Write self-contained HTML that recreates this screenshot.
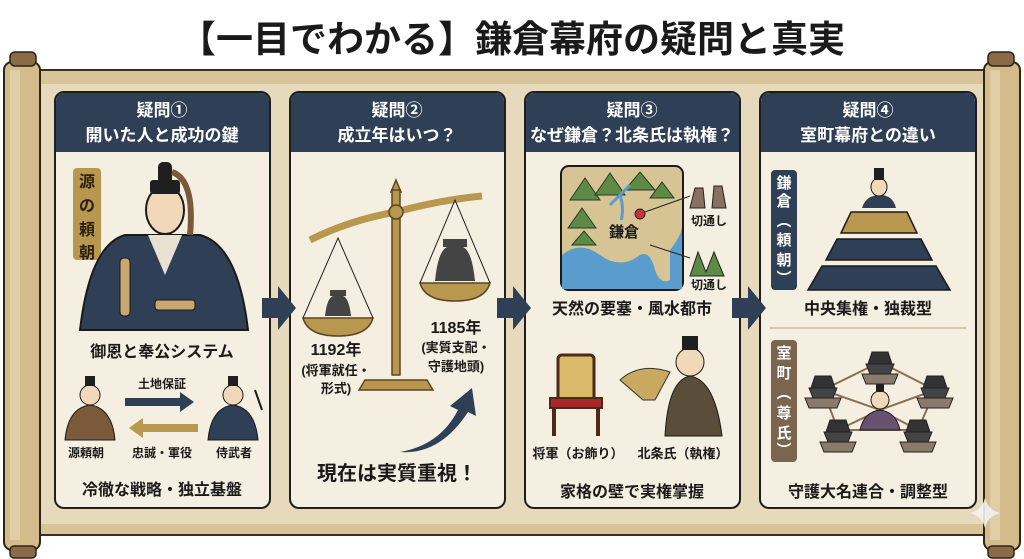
<!DOCTYPE html>
<html><head><meta charset="utf-8"><style>
html,body{margin:0;padding:0;background:#fff;}
svg{display:block;}
text{font-family:"Liberation Sans","Noto Sans CJK JP",sans-serif;font-weight:bold;}
</style></head><body>
<svg width="1024" height="559" viewBox="0 0 1024 559" xmlns="http://www.w3.org/2000/svg">
<rect width="1024" height="559" fill="#fff"/>
<text x="512" y="52" font-size="37" text-anchor="middle" fill="#1a1a1a">【一目でわかる】鎌倉幕府の疑問と真実</text>
<rect x="30" y="70" width="964" height="465" fill="#d9c49a" stroke="#3a2e22" stroke-width="2"/>
<rect x="38" y="84" width="948" height="440" fill="#e7d9bb"/>
<rect x="4" y="62" width="36" height="488" rx="8" fill="#d3bb8c" stroke="#2e2418" stroke-width="2"/>
<rect x="10" y="52" width="26" height="14" rx="5" fill="#8a6a48" stroke="#2e2418" stroke-width="1.5"/>
<rect x="10" y="546" width="26" height="12" rx="4" fill="#8a6a48" stroke="#2e2418" stroke-width="1.5"/>
<rect x="984" y="62" width="36" height="488" rx="8" fill="#d3bb8c" stroke="#2e2418" stroke-width="2"/>
<rect x="988" y="52" width="26" height="14" rx="5" fill="#8a6a48" stroke="#2e2418" stroke-width="1.5"/>
<rect x="988" y="546" width="26" height="12" rx="4" fill="#8a6a48" stroke="#2e2418" stroke-width="1.5"/>
<rect x="10" y="70" width="10" height="470" fill="#e6d5b0" opacity=".7"/>
<rect x="990" y="70" width="10" height="470" fill="#e6d5b0" opacity=".7"/>

<g stroke="#1e1e1e" stroke-width="2">
<rect x="55" y="92" width="215" height="416" rx="9" fill="#f5efe1"/>
<rect x="290" y="92" width="215" height="416" rx="9" fill="#f5efe1"/>
<rect x="525" y="92" width="215" height="416" rx="9" fill="#f5efe1"/>
<rect x="760" y="92" width="216" height="416" rx="9" fill="#f5efe1"/>
</g>
<g fill="#2f3f55">
<path d="M56,152 V102 Q56,93 65,93 H260 Q269,93 269,102 V152Z"/>
<path d="M291,152 V102 Q291,93 300,93 H495 Q504,93 504,102 V152Z"/>
<path d="M526,152 V102 Q526,93 535,93 H730 Q739,93 739,102 V152Z"/>
<path d="M761,152 V102 Q761,93 770,93 H966 Q975,93 975,102 V152Z"/>
</g>
<g fill="#fff" font-size="17" text-anchor="middle">
<text x="162" y="116">疑問①</text><text x="162" y="141">開いた人と成功の鍵</text>
<text x="397" y="116">疑問②</text><text x="397" y="141">成立年はいつ？</text>
<text x="632" y="116">疑問③</text><text x="632" y="141">なぜ鎌倉？北条氏は執権？</text>
<text x="868" y="116">疑問④</text><text x="868" y="141">室町幕府との違い</text>
</g>
<g fill="#2f3f55">
<path d="M262,298 h16 v-12 l18,22 l-18,22 v-12 h-16z"/>
<path d="M497,298 h16 v-12 l18,22 l-18,22 v-12 h-16z"/>
<path d="M732,298 h16 v-12 l18,22 l-18,22 v-12 h-16z"/>
</g>

<!-- Panel 1 -->
<rect x="73" y="168" width="28" height="92" rx="4" fill="#b8974e"/>
<g font-size="16" fill="#2a1f10" text-anchor="middle"><text x="87" y="187">源</text><text x="87" y="211">の</text><text x="87" y="235">頼</text><text x="87" y="258">朝</text></g>
<path d="M80,330 Q90,245 125,235 L200,235 Q238,245 248,330Z" fill="#2f3f55" stroke="#1a1a1a" stroke-width="2"/>
<path d="M148,235 L165,275 L182,235Z" fill="#e8e0d0"/>
<ellipse cx="165" cy="210" rx="19" ry="24" fill="#f0d8b8" stroke="#1a1a1a" stroke-width="2"/>
<rect x="150" y="180" width="30" height="14" rx="3" fill="#1f1f1f"/>
<rect x="158" y="162" width="14" height="22" rx="5" fill="#1f1f1f"/>
<path d="M172,172 Q195,180 190,235" stroke="#7a5a3a" stroke-width="6" fill="none"/>
<rect x="120" y="258" width="10" height="58" rx="4" fill="#c9a870" stroke="#1a1a1a"/>
<rect x="155" y="300" width="40" height="10" rx="3" fill="#c9a870" stroke="#1a1a1a"/>
<text x="162" y="357" font-size="16" fill="#1a1a1a" text-anchor="middle">御恩と奉公システム</text>
<path d="M65,440 Q68,408 90,405 Q112,408 115,440Z" fill="#7a5a3a" stroke="#1a1a1a"/>
<circle cx="90" cy="395" r="10" fill="#f0d8b8" stroke="#1a1a1a"/>
<rect x="85" y="376" width="10" height="10" fill="#1f1f1f"/>
<path d="M208,440 Q211,408 233,405 Q255,408 258,440Z" fill="#2f3f55" stroke="#1a1a1a"/>
<circle cx="233" cy="395" r="10" fill="#f0d8b8" stroke="#1a1a1a"/>
<rect x="228" y="376" width="10" height="10" fill="#1f1f1f"/>
<line x1="255" y1="390" x2="262" y2="410" stroke="#1a1a1a" stroke-width="2"/>
<text x="162" y="388" font-size="12" fill="#1a1a1a" text-anchor="middle">土地保証</text>
<path d="M125,398 h55 v-6 l14,10 l-14,10 v-6 h-55z" fill="#2f3f55"/>
<path d="M198,424 h-55 v-6 l-14,10 l14,10 v-6 h55z" fill="#b8974e"/>
<g font-size="12" fill="#1a1a1a" text-anchor="middle"><text x="86" y="457">源頼朝</text><text x="162" y="457">忠誠・軍役</text><text x="234" y="457">侍武者</text></g>
<text x="162" y="495" font-size="16" fill="#1a1a1a" text-anchor="middle">冷徹な戦略・独立基盤</text>

<!-- Panel 2 -->
<g stroke="#5a4520" stroke-width="1.5" fill="#b8974e">
<path d="M396,180 l5,12 h-10z"/>
<rect x="392" y="190" width="8" height="185"/>
<path d="M310,240 Q350,220 396,212 Q440,200 482,196" fill="none" stroke="#b8974e" stroke-width="7"/>
<circle cx="396" cy="212" r="7"/>
<path d="M365,380 h62 l6,10 h-74z"/>
<path d="M303,318 h70 q-5,18 -35,18 q-30,0 -35,-18z"/>
<path d="M420,283 h70 q-5,18 -35,18 q-30,0 -35,-18z"/>
</g>
<g stroke="#222" stroke-width="1" fill="none">
<path d="M303,318 L338,238 L373,318"/><path d="M420,283 L455,200 L490,283"/>
</g>
<path d="M325,316 q2,-18 8,-20 h-3 v-6 h16 v6 h-3 q6,2 8,20z" fill="#444"/>
<path d="M435,281 q3,-30 12,-34 h-4 v-8 h24 v8 h-4 q9,4 12,34z" fill="#444"/>
<g fill="#1a1a1a" text-anchor="middle">
<text x="336" y="355" font-size="16">1192年</text>
<text x="336" y="375" font-size="13">(将軍就任・</text>
<text x="336" y="393" font-size="13">形式)</text>
<text x="456" y="333" font-size="16">1185年</text>
<text x="456" y="352" font-size="13">(実質支配・</text>
<text x="456" y="371" font-size="13">守護地頭)</text>
</g>
<path d="M400,452 Q440,445 458,410 l-8,-4 l22,-18 l4,28 l-8,-4 Q440,455 400,452z" fill="#2f3f55"/>
<text x="397" y="480" font-size="20" fill="#1a1a1a" text-anchor="middle">現在は実質重視！</text>

<!-- Panel 3 -->
<rect x="561" y="166" width="122" height="124" rx="8" fill="#d6c494" stroke="#1a1a1a" stroke-width="2"/>
<path d="M562,255 Q580,240 600,255 Q620,270 640,255 Q650,250 655,270 Q660,285 670,280 V250 Q682,235 682,225 V289 H562z" fill="#5a9ccc"/>
<g fill="#5e8a48" stroke="#2a3a20">
<path d="M570,200 l15,-22 l15,22z"/><path d="M595,195 l15,-22 l15,22z"/><path d="M625,190 l15,-18 l15,18z"/><path d="M650,198 l12,-16 l12,16z"/>
<path d="M568,228 l14,-20 l14,20z"/><path d="M572,245 l12,-14 l12,14z"/>
</g>
<path d="M610,205 Q620,195 630,185 M620,195 Q625,210 620,225" stroke="#5a9ccc" stroke-width="3" fill="none"/>
<circle cx="640" cy="214" r="5" fill="#c33" stroke="#222"/>
<line x1="645" y1="212" x2="690" y2="196" stroke="#222"/>
<line x1="650" y1="245" x2="690" y2="258" stroke="#222"/>
<rect x="601" y="220" width="46" height="22" fill="#d6c494"/>
<text x="624" y="237" font-size="15" fill="#1a1a1a" text-anchor="middle">鎌倉</text>
<path d="M690,208 l5,-20 h8 l2,20z M712,208 l2,-22 l8,0 l4,22z" fill="#8a7060" stroke="#222"/>
<path d="M690,276 l8,-24 l8,20 l8,-20 l10,24z" fill="#5e8a48" stroke="#222"/>
<g font-size="12" fill="#1a1a1a" text-anchor="middle"><text x="709" y="225">切通し</text><text x="709" y="289">切通し</text></g>
<text x="632" y="314" font-size="16" fill="#1a1a1a" text-anchor="middle">天然の要塞・風水都市</text>
<rect x="558" y="355" width="36" height="50" rx="4" fill="#d9b96a" stroke="#4a2a18" stroke-width="3"/>
<rect x="550" y="398" width="52" height="10" fill="#a8282a" stroke="#4a2a18" stroke-width="2"/>
<path d="M554,408 v28 M598,408 v28" stroke="#4a2a18" stroke-width="4"/>
<path d="M665,436 Q668,380 690,376 Q715,380 722,436z" fill="#5a4e3a" stroke="#1a1a1a"/>
<circle cx="690" cy="362" r="14" fill="#f0d8b8" stroke="#1a1a1a"/>
<rect x="682" y="336" width="16" height="14" fill="#1f1f1f"/>
<path d="M643,400 L620,380 Q640,362 670,372 L655,400z" fill="#c9a860" stroke="#333"/>
<g font-size="13" fill="#1a1a1a" text-anchor="middle"><text x="578" y="458">将軍（お飾り）</text><text x="683" y="458">北条氏（執権）</text></g>
<text x="632" y="497" font-size="16" fill="#1a1a1a" text-anchor="middle">家格の壁で実権掌握</text>

<!-- Panel 4 -->
<rect x="771" y="170" width="26" height="120" rx="4" fill="#2f3f55"/>
<g font-size="15" fill="#fff" text-anchor="middle"><text x="784" y="188">鎌</text><text x="784" y="206">倉</text><text x="784" y="226">︵</text><text x="784" y="245">頼</text><text x="784" y="265">朝</text><text x="784" y="283">︶</text></g>
<path d="M862,208 Q866,195 880,195 Q893,195 896,208z" fill="#2f3f55"/>
<ellipse cx="879" cy="187" rx="8" ry="9" fill="#f0d8b8" stroke="#1a1a1a"/>
<rect x="874" y="168" width="10" height="12" fill="#1f1f1f"/>
<g stroke="#1a1a1a" stroke-width="1.5">
<path d="M851,212 h56 l10,21 h-76z" fill="#b8974e"/>
<path d="M837,239 h84 l11,21 h-106z" fill="#2f3f55"/>
<path d="M822,266 h114 l14,24 h-142z" fill="#2f3f55"/>
</g>
<text x="868" y="314" font-size="16" fill="#1a1a1a" text-anchor="middle">中央集権・独裁型</text>
<line x1="770" y1="328" x2="966" y2="328" stroke="#c8b898" stroke-width="1.5"/>
<rect x="771" y="340" width="26" height="122" rx="4" fill="#7a6650"/>
<g font-size="15" fill="#fff" text-anchor="middle"><text x="784" y="358">室</text><text x="784" y="378">町</text><text x="784" y="398">︵</text><text x="784" y="418">尊</text><text x="784" y="438">氏</text><text x="784" y="455">︶</text></g>
<g stroke="#8a7050" stroke-width="2" fill="none">
<path d="M880,362 L823,390 L838,430 L918,430 L935,390Z"/>
<path d="M880,362 L880,410 M823,390 L880,410 L935,390 M838,430 L880,410 L918,430"/>
</g>
<g stroke="#222" stroke-width="1">
<g transform="translate(880,362)"><path d="M-18,12 h36 l-4,10 h-28z" fill="#8a7a6a"/><path d="M-14,2 h28 l-4,10 h-20z" fill="#444"/><path d="M-8,-10 h16 l4,12 h-24z" fill="#333"/></g>
<g transform="translate(823,386)"><path d="M-18,12 h36 l-4,10 h-28z" fill="#8a7a6a"/><path d="M-14,2 h28 l-4,10 h-20z" fill="#444"/><path d="M-8,-10 h16 l4,12 h-24z" fill="#333"/></g>
<g transform="translate(935,386)"><path d="M-18,12 h36 l-4,10 h-28z" fill="#8a7a6a"/><path d="M-14,2 h28 l-4,10 h-20z" fill="#444"/><path d="M-8,-10 h16 l4,12 h-24z" fill="#333"/></g>
<g transform="translate(838,430)"><path d="M-18,12 h36 l-4,10 h-28z" fill="#8a7a6a"/><path d="M-14,2 h28 l-4,10 h-20z" fill="#444"/><path d="M-8,-10 h16 l4,12 h-24z" fill="#333"/></g>
<g transform="translate(918,430)"><path d="M-18,12 h36 l-4,10 h-28z" fill="#8a7a6a"/><path d="M-14,2 h28 l-4,10 h-20z" fill="#444"/><path d="M-8,-10 h16 l4,12 h-24z" fill="#333"/></g>
</g>
<path d="M860,430 Q864,412 880,410 Q896,412 900,430z" fill="#6a5070" stroke="#1a1a1a"/>
<circle cx="880" cy="400" r="9" fill="#f0d8b8" stroke="#1a1a1a"/>
<rect x="876" y="384" width="8" height="8" fill="#1f1f1f"/>
<text x="868" y="497" font-size="16" fill="#1a1a1a" text-anchor="middle">守護大名連合・調整型</text>
<path d="M985,498 Q988,510 1000,513 Q988,516 985,528 Q982,516 970,513 Q982,510 985,498z" fill="#f2f2f2" opacity=".9"/>
</svg>
</body></html>
